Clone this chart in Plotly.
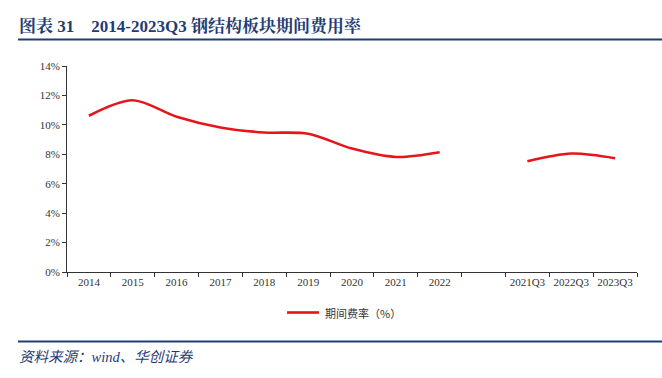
import plotly.graph_objects as go

categories = ["2014", "2015", "2016", "2017", "2018", "2019", "2020", "2021", "2022",
              " ", "2021Q3", "2022Q3", "2023Q3"]
annual_rate = [10.62, 11.67, 10.55, 9.82, 9.48, 9.40, 8.39, 7.82, 8.14, None, None, None, None]
q3_rate = [None, None, None, None, None, None, None, None, None, None, 7.52, 8.05, 7.73]
y_ticks = [0, 2, 4, 6, 8, 10, 12, 14]

RED = "#E8141C"
NAVY = "#1F3C74"
SERIF = "Liberation Serif, Noto Sans CJK SC, serif"

L, R, T, B = 67, 25, 66, 106
W, H = 662, 378
pw, ph = W - L - R, H - T - B

def px(x):
    return (x - L) / pw

def py(y):
    return (H - B - y) / ph

fig = go.Figure()
fig.add_trace(go.Scatter(x=categories, y=annual_rate, mode="lines",
                         line=dict(color=RED, width=2.6, shape="spline", smoothing=0.9),
                         connectgaps=False, showlegend=False))
fig.add_trace(go.Scatter(x=categories, y=q3_rate, mode="lines",
                         line=dict(color=RED, width=2.6, shape="spline", smoothing=0.9),
                         connectgaps=False, showlegend=False))

fig.update_layout(
    width=W, height=H,
    margin=dict(l=L, r=R, t=T, b=B, autoexpand=False),
    paper_bgcolor="white", plot_bgcolor="white",
    font=dict(family=SERIF, size=11, color="#333333"),
    showlegend=False,
    xaxis=dict(type="category", categoryorder="array", categoryarray=categories,
               tickson="boundaries", ticks="outside", ticklen=4, tickcolor="#333333",
               tickangle=0, automargin=False,
               showline=True, linecolor="#333333", linewidth=1, showgrid=False,
               tickfont=dict(size=11, family=SERIF, color="#333333"),
               range=[-0.5, len(categories) - 0.5]),
    yaxis=dict(range=[0, 14], tickvals=y_ticks, ticktext=[f"{v}%" for v in y_ticks],
               ticks="outside", ticklen=4, tickcolor="#333333", automargin=False,
               showline=True, linecolor="#333333", linewidth=1, showgrid=False,
               zeroline=False, tickfont=dict(size=11, family=SERIF, color="#333333")),
)

# legend drawn manually
fig.add_shape(type="line", xref="paper", yref="paper", x0=px(287), x1=px(319), y0=py(312.5), y1=py(312.5),
              line=dict(color=RED, width=2.6))
fig.add_annotation(xref="paper", yref="paper", x=px(323), y=py(312.5), xanchor="left", yanchor="middle",
                   text="期间费率（%）", showarrow=False,
                   font=dict(family="Noto Sans CJK SC, sans-serif", size=11, color="#333333"))

fig.add_annotation(xref="paper", yref="paper", x=px(17), y=py(26), xanchor="left", yanchor="middle",
                   text="<b>图表 31    2014-2023Q3 钢结构板块期间费用率</b>", showarrow=False,
                   font=dict(family="Liberation Serif, Noto Serif CJK SC, Noto Sans CJK SC, serif",
                             size=17, color=NAVY))
fig.add_shape(type="line", xref="paper", yref="paper", x0=px(18), x1=px(662), y0=py(39.5), y1=py(39.5),
              line=dict(color=NAVY, width=2))
fig.add_shape(type="line", xref="paper", yref="paper", x0=px(18), x1=px(662), y0=py(341.5), y1=py(341.5),
              line=dict(color=NAVY, width=2))
fig.add_annotation(xref="paper", yref="paper", x=px(17), y=py(357), xanchor="left", yanchor="middle",
                   text="<i>资料来源：wind、华创证券</i>", showarrow=False,
                   font=dict(family=SERIF, size=14.5, color=NAVY))

fig.write_html("out.html", config={"displayModeBar": False},
               post_script="document.body.style.margin='0';")
